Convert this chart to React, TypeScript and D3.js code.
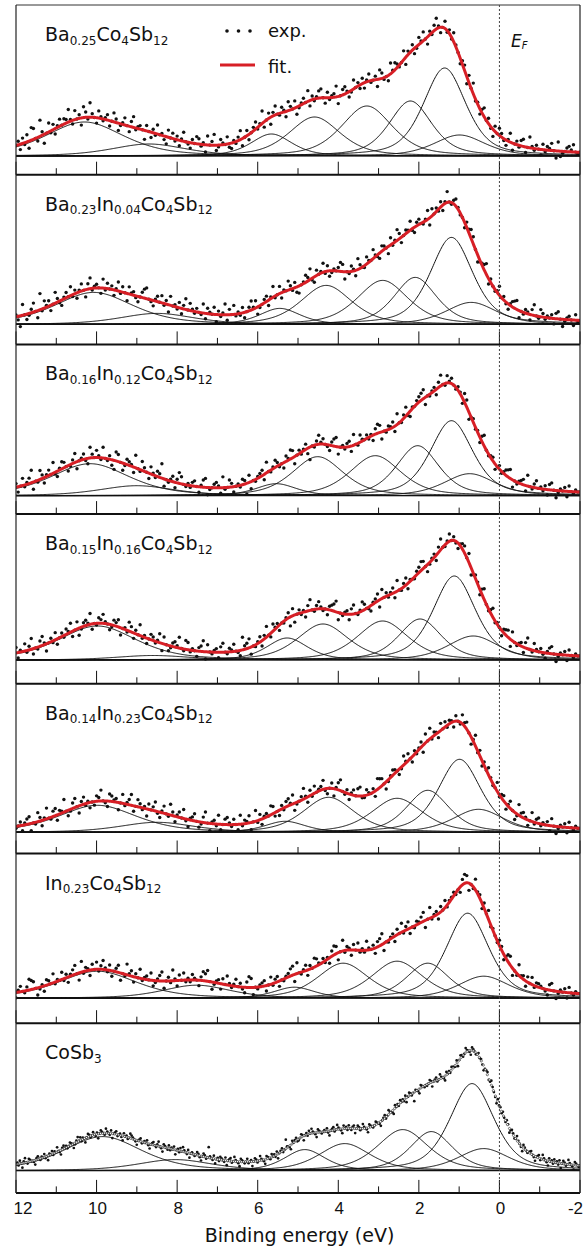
import React from "react";
import * as d3 from "d3";

// ---------- data ----------
const majorTicks = [12, 10, 8, 6, 4, 2, 0, -2];
const minorTicks = [11, 9, 7, 5, 3, 1, -1];
const tickLabels = ["12", "10", "8", "6", "4", "2", "0", "-2"];
const axisTitle = "Binding energy (eV)";

const sampleLabels: Array<Array<[string, boolean]>> = [
  [["Ba", false], ["0.25", true], ["Co", false], ["4", true], ["Sb", false], ["12", true]],
  [["Ba", false], ["0.23", true], ["In", false], ["0.04", true], ["Co", false], ["4", true], ["Sb", false], ["12", true]],
  [["Ba", false], ["0.16", true], ["In", false], ["0.12", true], ["Co", false], ["4", true], ["Sb", false], ["12", true]],
  [["Ba", false], ["0.15", true], ["In", false], ["0.16", true], ["Co", false], ["4", true], ["Sb", false], ["12", true]],
  [["Ba", false], ["0.14", true], ["In", false], ["0.23", true], ["Co", false], ["4", true], ["Sb", false], ["12", true]],
  [["In", false], ["0.23", true], ["Co", false], ["4", true], ["Sb", false], ["12", true]],
  [["CoSb", false], ["3", true]],
];

// fitted components: peak centre (eV), height (a.u.), FWHM (eV)
const p1Centers = [10.3, 8.7, 5.66, 4.59, 3.29, 2.21, 1.36, 0.99];
const p1Heights = [34, 12, 22, 39, 50, 55, 88, 21];
const p1Widths = [2.3, 2.2, 1.2, 1.5, 1.5, 1.25, 1.25, 1.5];

const p2Centers = [10.07, 8.5, 5.45, 4.3, 2.9, 2.09, 1.19, 0.7];
const p2Heights = [32, 11, 16, 39, 44, 47, 87, 22];
const p2Widths = [2.3, 2.2, 1.2, 1.5, 1.5, 1.25, 1.25, 1.5];

const p3Centers = [10.16, 9.0, 5.54, 4.51, 3.08, 2.03, 1.19, 0.74];
const p3Heights = [32, 10, 12, 39, 40, 50, 75, 22];
const p3Widths = [2.3, 2.2, 1.2, 1.5, 1.5, 1.25, 1.25, 1.5];

const p4Centers = [9.98, 8.6, 5.27, 4.38, 2.9, 1.97, 1.12, 0.65];
const p4Heights = [34, 4.5, 22, 36, 39, 41, 84, 24];
const p4Widths = [2.3, 2.2, 1.2, 1.5, 1.5, 1.25, 1.25, 1.5];

const p5Centers = [9.98, 8.5, 5.32, 4.24, 2.54, 1.78, 0.99, 0.52];
const p5Heights = [27, 10, 11, 35, 34, 42, 73, 23];
const p5Widths = [2.3, 2.2, 1.2, 1.5, 1.5, 1.25, 1.25, 1.5];

const p6Centers = [9.98, 7.52, 5.09, 3.88, 2.54, 1.78, 0.79, 0.39];
const p6Heights = [27, 13, 11, 35, 37, 35, 85, 22];
const p6Widths = [2.3, 2.0, 1.2, 1.5, 1.5, 1.25, 1.25, 1.5];

const p7Centers = [9.85, 8.05, 4.83, 3.84, 2.4, 1.69, 0.68, 0.39];
const p7Heights = [34, 11, 21, 27, 41, 39, 87, 22];
const p7Widths = [2.3, 2.2, 1.2, 1.5, 1.5, 1.25, 1.3, 1.5];

// experimental scatter: deviation of each measured point from the fit ('k' = 0)
const p1Resid = [
  "kmhnjogrqkitmfkpjnhl", "oknmrlipkmgqnjsmkhol", "jlnhkpmgjlokhnqjlmkf", "nkhmjpkligoknjmhlpkj",
  "hmkonjlgpkmqhjnlkoih", "ljmpgknhkmojlrhkngmp", "kjnlhpmkogjlnkqhmjlo", "pkhnjlmqgknolhjpkmin",
  "hlojkmgpnjkhqlomjkpg", "mknhjolpkgmjnqlhkojm", "jplkhmngokqjlhmpknjg", "nkomjhlpgkmjnohkqljm",
  "khnjmlokgphjkmnlokjk",
].join("");
const p2Resid = [
  "lieqkhjmpkgtjolnhkqm", "jhlnkpjmhlokgnqjlmkh", "pjnkmhlpjnkgolmjhknp", "qkjhlnkojmgpkljnhmqk",
  "oljmkjphnlkogmjlqhnk", "pjljnhkmplogjkmnhlqj", "kohlkpmjnhgklomqjhnk", "lpjnhjlkmpogkjnlhqmk",
  "jolkpljhnmkgojlqnhkm", "lpjhmnkjlpgokmjnhlqk", "jmoljkhnmpokgjlnqhmk", "jlpkmjhlnopgkjmlhnqk",
  "jomjlkmhnokgjlmkhnjk",
].join("");
const p3Resid = [
  "mhkojlnrgkjpmhlnkqjh", "lonkhjmpgklnjhqmkolj", "qkjmhfpokgjnmlhrkjpm", "kholjnmsgkjlnhmqokjl",
  "jmnkhlopgjkmnlhqjkom", "hkljnmeogkjlmnhqkjlo", "mjkhnlpogkmjlnhdkjmp", "lnkjhmopgkljmnhqkjol",
  "kmjlhnpogkjmlnhqkjmp", "jhlkmnopgkjlmhnqkjol", "nkjmlhpogkmjlhnqkjlm", "hkmjlnopgkjlmnhqkjmo",
  "kljmhnokgjlkmhnkjlkk",
].join("");
const p4Resid = [
  "nhlkojmqhkjnplgkmjoh", "kmjnlphkogjmnlqhkjnm", "plkhjnmogkljpnhmkqjl", "hknmjlpgokhjmnlqkjpo",
  "jlkhmnqgokjlmhnpkjml", "okjhrmnpgkjlnhmqkiol", "mhkjlnfogkmjlhnqkjmo", "ljkhmnoqgkjlmhnpkjlp",
  "nkjhlmogpkmjlnhqkjmo", "hlkjmnpokgjlmhnqkjlo", "kmjhlnokpgjmlhnqkjmp", "jlkhmnogpkjlmhnqkjol",
  "kmjhlnokgjlkmhnkjlkk",
].join("");
const p5Resid = [
  "jkmhlnogkjpmhlqkjnoh", "mlrkhjnpkgmojlhkinmq", "kjhonlmgkpjlnqhkomjl", "gnkmpjhlokjqmhlnkpjg",
  "lmokhjnqkglmjphknolj", "nkhpjmlogkqjnhlmkpoi", "khmjnolpgjkmqlhnjokl", "mpjhkngloqkjmhlnkopj",
  "jnlkmhqpokgjlnmkhjpl", "okhmjlngpkqjmlhoknjm", "lhnkjpmokglqjnhmkolj", "kpjmnhlokgjqmnlhkpjm",
  "njlkmhokgjlkmhnkjlkk",
].join("");
const p6Resid = [
  "hlnkjmqpokgjlhnmkpjl", "kojmhlnpkgqjmlhnkojm", "pljnhkmogkjqlnhmkpjl", "mkohjlnpgkmjqlhnkojl",
  "jnlkhmpoqkgjlmhnkplj", "lokmjhnqpgkjlmnhkojm", "nhkjlmopgqkjlnhmkpol", "kmjlhnpogkqjmlhnkojl",
  "jplkmhnoqgkjlmhnkpjm", "ohkjmlnpgkqjlmhnkojl", "lmjkhnpogkjqlmhnkpjl", "kjnmhlopgkjqlmhnkojm",
  "mlkjhnokgjlkmhnkjlkk",
].join("");
const p7Resid = [
  "kljmkhlnkjmlkkjhlmkj", "lkmjkhlkmjlknkjhlmkl", "jkmlkhjlnkmjlkhkmljk", "mkjlhkmlkjnlkjmhklmj",
  "kljhmkljknmlkjhklmjk", "lkmjhklmkjlnkjhmlkjm", "jlkmhkljmknlkjmhklkj", "kmljhkmljkrlkjmhkljm",
  "lkjmhklmjknlkjhmlkjk", "mjklhkmljknlkjhmlkjm", "kljmhklmjkqlkjhmklmj", "jkmlhkljmknlkjhmlkjk",
  "lkmjhklmjknlkjhmkljm", "kjlmhkmljknlkjhmlkjk", "mlkjhklmjknlkjhmkljm", "kljmhkmljkelkjhmlkjk",
  "jkmlhklmjknlkjhmkljm", "lkjmhkmljknlkjhmlkjk", "mkljhklmjknlkjhmkljm", "kjmlhkmljknlkjhmlkjk",
  "lmkjhklmjknlkjhmkljm", "kljmhkmljknlkjhmlkjk",
].join("");

const panels = [
  { centers: p1Centers, heights: p1Heights, widths: p1Widths, resid: p1Resid },
  { centers: p2Centers, heights: p2Heights, widths: p2Widths, resid: p2Resid },
  { centers: p3Centers, heights: p3Heights, widths: p3Widths, resid: p3Resid },
  { centers: p4Centers, heights: p4Heights, widths: p4Widths, resid: p4Resid },
  { centers: p5Centers, heights: p5Heights, widths: p5Widths, resid: p5Resid },
  { centers: p6Centers, heights: p6Heights, widths: p6Widths, resid: p6Resid },
  { centers: p7Centers, heights: p7Heights, widths: p7Widths, resid: p7Resid },
];

// ---------- layout ----------
const X0 = 16;
const X1 = 580;
const TOP = 5;
const PANEL_H = 169.7;
const baselineGaps = [18.7, 20, 18.4, 23.8, 21.2, 25, 22.3];
const ETA = 0.5;
const RED = "#d71f26";

function pvoigt(E: number, c: number, h: number, w: number) {
  const d = (E - c) / w;
  return h * (ETA / (1 + 4 * d * d) + (1 - ETA) * Math.exp(-4 * Math.LN2 * d * d));
}

export default function App() {
  const x = d3.scaleLinear().domain([12, -2]).range([X0, X1]);
  const grid = d3.range(0, 701).map((i) => 12 - i * 0.02);

  return (
    <svg
      width={587}
      height={1249}
      style={{ position: "absolute", left: 0, top: 0, background: "#fff" }}
    >
      <defs>
        <clipPath id="plotclip">
          <rect x={X0} y={TOP} width={X1 - X0} height={PANEL_H * 7} />
        </clipPath>
      </defs>
      <rect x={0} y={0} width={587} height={1249} fill="#fff" />
      {panels.map((p, pi) => {
        const top = TOP + pi * PANEL_H;
        const bottom = top + PANEL_H;
        const base = bottom - baselineGaps[pi];
        const y = d3.scaleLinear().domain([0, 150]).range([base, base - 150]);
        const comp = (E: number, k: number) => pvoigt(E, p.centers[k], p.heights[k], p.widths[k]);
        const fit = (E: number) => d3.sum(p.centers, (_c, k) => comp(E, k));
        const line = d3
          .line<number>()
          .x((E) => x(E))
          .curve(d3.curveLinear);
        const isLast = pi === 6;
        const unit = isLast ? 1.5 : 1.8;
        const n = p.resid.length;
        const dots = d3.range(n).map((i) => {
          const E = 12 - (14 * i) / (n - 1);
          const off = (p.resid.charCodeAt(i) - 107) * unit;
          return { E, v: fit(E) + off };
        });
        return (
          <g key={pi}>
            <g clipPath="url(#plotclip)">
              {p.centers.map((_c, k) => (
                <path
                  key={k}
                  d={line.y((E) => y(comp(E, k)))(grid) || ""}
                  fill="none"
                  stroke="#111"
                  strokeWidth={1}
                />
              ))}
              <line x1={X0} x2={X1} y1={base} y2={base} stroke="#111" strokeWidth={1.1} />
              {dots.map((d, i) => (
                <circle key={i} cx={x(d.E)} cy={y(d.v)} r={isLast ? 1.35 : 1.7} fill="#111" />
              ))}
              {isLast ? (
                d3.range(0, 281).map((i) => {
                  const E = 12 - i * 0.05;
                  return (
                    <circle
                      key={"f" + i}
                      cx={x(E)}
                      cy={y(fit(E))}
                      r={1.1}
                      fill="#fff"
                      stroke="#222"
                      strokeWidth={0.6}
                    />
                  );
                })
              ) : (
                <path
                  d={line.y((E) => y(fit(E)))(grid) || ""}
                  fill="none"
                  stroke={RED}
                  strokeWidth={3}
                  strokeLinejoin="round"
                />
              )}
            </g>
            {majorTicks.map((t) => (
              <line key={"M" + t} x1={x(t)} x2={x(t)} y1={bottom} y2={bottom - 13} stroke="#111" strokeWidth={1} />
            ))}
            {minorTicks.map((t) => (
              <line key={"m" + t} x1={x(t)} x2={x(t)} y1={bottom} y2={bottom - 6.5} stroke="#111" strokeWidth={1} />
            ))}
            <line x1={X0} x2={X1} y1={bottom} y2={bottom} stroke="#111" strokeWidth={2} />
            <text x={45} y={top + 36} fontFamily="DejaVu Sans, Verdana, sans-serif" fontSize={19} fill="#111">
              {sampleLabels[pi].map(([t, sub], k) => {
                const prevSub = k > 0 && sampleLabels[pi][k - 1][1];
                const dy = sub ? 3.5 : prevSub ? -3.5 : 0;
                return (
                  <tspan key={k} dy={dy} fontSize={sub ? 12 : 19}>
                    {t}
                  </tspan>
                );
              })}
            </text>
          </g>
        );
      })}
      {/* frame */}
      <line x1={X0} x2={X1} y1={TOP} y2={TOP} stroke="#333" strokeWidth={1} />
      <line x1={X0} x2={X0} y1={TOP} y2={TOP + 7 * PANEL_H} stroke="#222" strokeWidth={1.2} />
      <line x1={X1} x2={X1} y1={TOP} y2={TOP + 7 * PANEL_H} stroke="#222" strokeWidth={1.2} />
      {/* Fermi level */}
      <line x1={x(0)} x2={x(0)} y1={TOP} y2={TOP + 7 * PANEL_H} stroke="#444" strokeWidth={1} strokeDasharray="2,2" />
      <text x={511} y={46.5} fontFamily="DejaVu Sans, sans-serif" fontStyle="italic" fontSize={17} fill="#111">
        E<tspan dy={2.5} fontSize={10}>F</tspan>
      </text>
      {/* legend */}
      {[227, 238.5, 250].map((cx) => (
        <circle key={cx} cx={cx} cy={31} r={1.8} fill="#111" />
      ))}
      <text x={268} y={37} fontFamily="DejaVu Sans, sans-serif" fontSize={18} fill="#111">exp.</text>
      <line x1={220} x2={255} y1={65} y2={65} stroke={RED} strokeWidth={3} />
      <text x={268} y={72.5} fontFamily="DejaVu Sans, sans-serif" fontSize={18} fill="#111">fit.</text>
      {/* axis labels */}
      {majorTicks.map((t, i) => {
        const first = i === 0;
        const last = i === majorTicks.length - 1;
        return (
          <text
            key={"l" + t}
            x={first ? 13.5 : last ? 583 : x(t) + 1}
            y={1214}
            textAnchor={first ? "start" : last ? "end" : "middle"}
            fontFamily="Liberation Sans, Arial, sans-serif"
            fontSize={17}
            fill="#111"
          >
            {tickLabels[i]}
          </text>
        );
      })}
      <text
        x={299.5}
        y={1241.5}
        textAnchor="middle"
        fontFamily="DejaVu Sans, Verdana, sans-serif"
        fontSize={19}
        fill="#111"
      >
        {axisTitle}
      </text>
    </svg>
  );
}
